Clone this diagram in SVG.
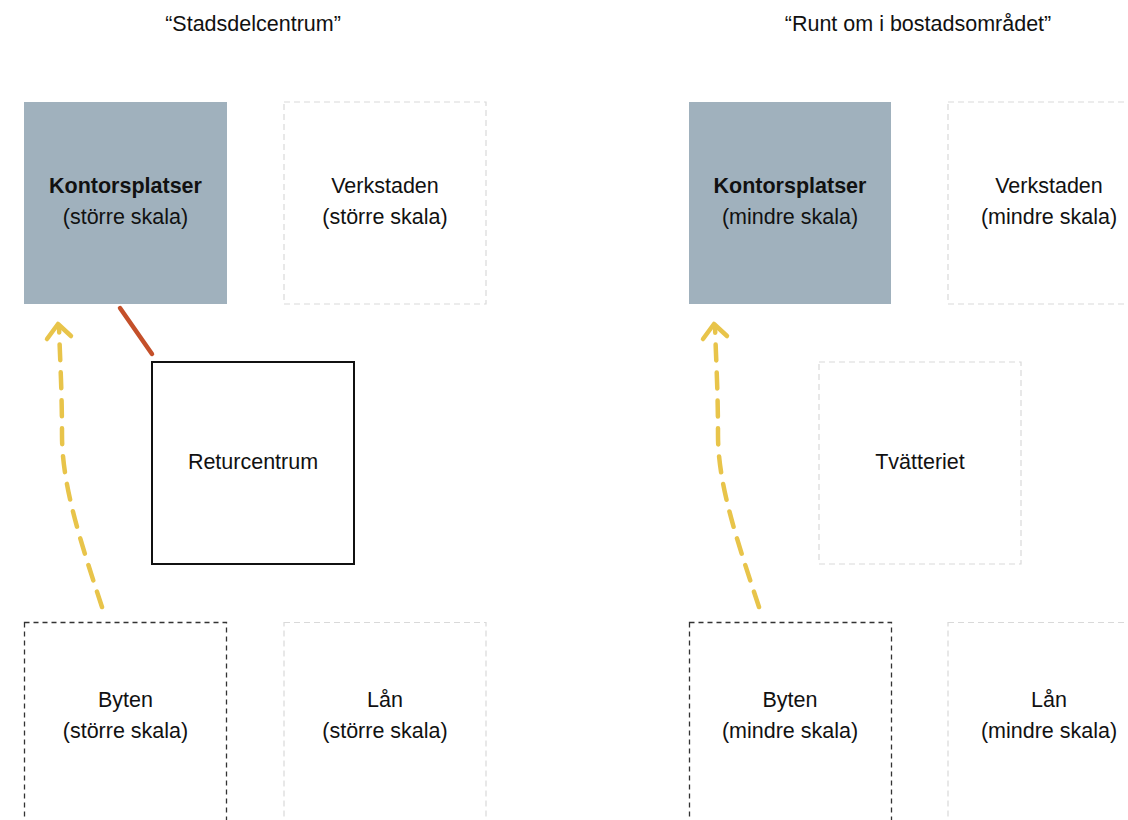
<svg xmlns="http://www.w3.org/2000/svg" width="1128" height="820" viewBox="0 0 1128 820">
<defs>
<style>
text{font-family:"Liberation Sans",Arial,sans-serif;font-size:21.5px;fill:#111;text-anchor:middle}
.b{font-weight:bold}
.kontor{fill:#A0B1BD;stroke:none}
.faint{fill:none;stroke:#d9d9d9;stroke-width:1.2;stroke-dasharray:6 4}
.dark{fill:none;stroke:#333;stroke-width:1.3;stroke-dasharray:5 4}
.solid{fill:#fff;stroke:#111;stroke-width:2}
.yel{fill:none;stroke:#E8C44A;stroke-width:4.5;stroke-linecap:round;stroke-dasharray:16 12}
.yelhead{fill:none;stroke:#E8C44A;stroke-width:4.5;stroke-linecap:round;stroke-linejoin:round}
.red{stroke:#C4502A;stroke-width:4.5;stroke-linecap:round}
</style>
</defs>
<rect width="1128" height="820" fill="#fff"/>
<text x="253" y="31">“Stadsdelcentrum”</text>
<text x="918" y="31">“Runt om i bostadsområdet”</text>

<g id="kontor-l"><rect class="kontor" x="24" y="102" width="203" height="202"/><text class="b" x="125.5" y="193">Kontorsplatser</text><text x="125.5" y="224">(större skala)</text></g>
<g id="verkstad-l"><rect class="faint" x="284" y="102" width="202" height="202"/><text x="385" y="193">Verkstaden</text><text x="385" y="224">(större skala)</text></g>
<g id="retur"><rect class="solid" x="152" y="362" width="202" height="202"/><text x="253" y="469">Returcentrum</text></g>
<g id="byten-l"><rect class="dark" x="24.5" y="622.5" width="202" height="210"/><text x="125.5" y="707">Byten</text><text x="125.5" y="738">(större skala)</text></g>
<g id="lan-l"><rect class="faint" x="284" y="622.5" width="202" height="210"/><text x="385" y="707">Lån</text><text x="385" y="738">(större skala)</text></g>

<g id="kontor-r"><rect class="kontor" x="689" y="102" width="202" height="202"/><text class="b" x="790" y="193">Kontorsplatser</text><text x="790" y="224">(mindre skala)</text></g>
<g id="verkstad-r"><rect class="faint" x="948" y="102" width="202" height="202"/><text x="1049" y="193">Verkstaden</text><text x="1049" y="224">(mindre skala)</text></g>
<g id="tvatt"><rect class="faint" x="819" y="362" width="202" height="202"/><text x="920" y="469">Tvätteriet</text></g>
<g id="byten-r"><rect class="dark" x="689.5" y="622.5" width="202" height="210"/><text x="790" y="707">Byten</text><text x="790" y="738">(mindre skala)</text></g>
<g id="lan-r"><rect class="faint" x="948" y="622.5" width="202" height="210"/><text x="1049" y="707">Lån</text><text x="1049" y="738">(mindre skala)</text></g>

<g id="connectors">
<path class="yel" d="M102,607 C80,540 62,485 62,435 C62,390 60,360 59,326"/>
<path class="yelhead" d="M47,339 L58,324 L71,336"/>
<path class="yel" d="M759,607 C737,540 718,485 718,435 C718,390 716,360 715,326"/>
<path class="yelhead" d="M703,339 L714,324 L727,336"/>
<line class="red" x1="120" y1="308" x2="152" y2="354"/>
</g>
</svg>
